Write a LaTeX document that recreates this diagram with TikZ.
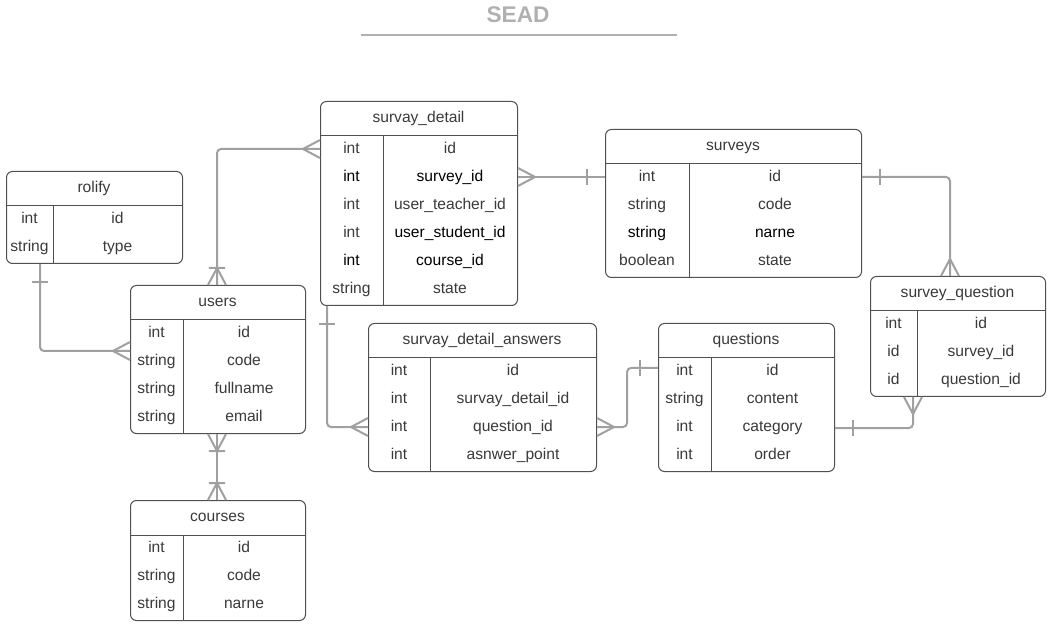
\documentclass[tikz,border=0pt]{standalone}
\usepackage{fontspec}
\setmainfont{Liberation Sans}
\usetikzlibrary{arrows.meta,calc}

\definecolor{tblgray}{HTML}{505050}
\definecolor{txtgray}{HTML}{3A3A3A}
\definecolor{linkgray}{HTML}{A0A0A0}
\definecolor{titlegray}{HTML}{B0B0B0}

\newcommand{\pxu}{0.75pt}

%% crow's foot and bar tips
\pgfdeclarearrow{
  name = Crow,
  parameters = {\the\pgfarrowlength,\the\pgfarrowwidth},
  setup code = {
    \pgfarrowssettipend{0pt}
    \pgfarrowssetlineend{0pt}
    \pgfarrowssetbackend{-\pgfarrowlength}
    \pgfarrowshullpoint{0pt}{.5\pgfarrowwidth}
    \pgfarrowshullpoint{0pt}{-.5\pgfarrowwidth}
    \pgfarrowshullpoint{-\pgfarrowlength}{0pt}
    \pgfarrowssavethe\pgfarrowlength
    \pgfarrowssavethe\pgfarrowwidth
  },
  drawing code = {
    \pgfpathmoveto{\pgfqpoint{0pt}{.5\pgfarrowwidth}}
    \pgfpathlineto{\pgfqpoint{-\pgfarrowlength}{0pt}}
    \pgfpathlineto{\pgfqpoint{0pt}{-.5\pgfarrowwidth}}
    \pgfusepathqstroke
  },
  defaults = {length=12.75pt, width=13.5pt}
}
\pgfdeclarearrow{
  name = Tick,
  parameters = {\the\pgfarrowlength,\the\pgfarrowwidth},
  setup code = {
    \pgfarrowssettipend{0pt}
    \pgfarrowssetlineend{0pt}
    \pgfarrowssetbackend{-\pgfarrowlength}
    \pgfarrowshullpoint{-\pgfarrowlength}{.5\pgfarrowwidth}
    \pgfarrowshullpoint{-\pgfarrowlength}{-.5\pgfarrowwidth}
    \pgfarrowssavethe\pgfarrowlength
    \pgfarrowssavethe\pgfarrowwidth
  },
  drawing code = {
    \pgfpathmoveto{\pgfqpoint{-\pgfarrowlength}{.5\pgfarrowwidth}}
    \pgfpathlineto{\pgfqpoint{-\pgfarrowlength}{-.5\pgfarrowwidth}}
    \pgfusepathqstroke
  },
  defaults = {length=13.5pt, width=12pt}
}
\pgfdeclarearrow{
  name = CrowTick,
  parameters = {\the\pgfarrowlength,\the\pgfarrowwidth},
  setup code = {
    \pgfarrowssettipend{0pt}
    \pgfarrowssetlineend{0pt}
    \pgfarrowssetbackend{-\pgfarrowlength}
    \pgfarrowshullpoint{0pt}{.5\pgfarrowwidth}
    \pgfarrowshullpoint{0pt}{-.5\pgfarrowwidth}
    \pgfarrowshullpoint{-\pgfarrowlength}{.5\pgfarrowwidth}
    \pgfarrowshullpoint{-\pgfarrowlength}{-.5\pgfarrowwidth}
    \pgfarrowssavethe\pgfarrowlength
    \pgfarrowssavethe\pgfarrowwidth
  },
  drawing code = {
    \pgfpathmoveto{\pgfqpoint{0pt}{.5\pgfarrowwidth}}
    \pgfpathlineto{\pgfqpoint{-\pgfarrowlength}{0pt}}
    \pgfpathlineto{\pgfqpoint{0pt}{-.5\pgfarrowwidth}}
    \pgfpathmoveto{\pgfqpoint{-\pgfarrowlength}{.45\pgfarrowwidth}}
    \pgfpathlineto{\pgfqpoint{-\pgfarrowlength}{-.45\pgfarrowwidth}}
    \pgfusepathqstroke
  },
  defaults = {length=12.75pt, width=13.5pt}
}

\tikzset{
  tbl/.style={draw=tblgray, line width=0.75pt, rounded corners=4.5pt, fill=white, anchor=north west, inner sep=0pt},
  tblline/.style={draw=tblgray, line width=0.75pt},
  cell/.style={text=txtgray, font=\fontsize{11.7}{14}\selectfont, inner sep=0pt, text height=8.6pt, text depth=2.5pt},
  link/.style={draw=linkgray, line width=1.5pt, rounded corners=3pt},
}

%% name, x, y, width, divider, rows, title, fields
\newcommand{\ertable}[8]{%
  \node[tbl, minimum width=#4*\pxu, minimum height=(36+28*#6)*\pxu] (#1) at (#2,#3) {};
  \draw[tblline] ($(#1.north west)+(0,35)$) -- ($(#1.north east)+(0,35)$);
  \draw[tblline] ($(#1.north west)+(#5,35)$) -- ($(#1.south west)+(#5,0)$);
  \node[cell] (#1-title) at ({#2+#4/2},{#3+17.5}) {#7};
  \foreach[count=\i] \ty/\fn in {#8} {
    \node[cell] (#1-t\i) at ({#2+#5/2},{#3+48.5+28*(\i-1)}) {\ty};
    \node[cell] (#1-f\i) at ({#2+#5+(#4-#5)/2},{#3+48.5+28*(\i-1)}) {\fn};
  }
}

\begin{document}
\begin{tikzpicture}[x=0.75pt,y=-0.75pt]
  \useasboundingbox (0,0) rectangle (1052,630);
  %% Title
  \node[font=\bfseries\fontsize{17}{20}\selectfont, text=titlegray] (title) at (518,15) {SEAD};
  \draw[titlegray, line width=1.2pt] (361,35) -- (677,35);
  %% Tables
  \ertable{rolify}{6}{171}{176}{47}{2}{rolify}{int/id, string/type}
  \ertable{users}{130}{285}{175}{53}{4}{users}{int/id, string/code, string/fullname, string/email}
  \ertable{courses}{130}{500}{175}{53}{3}{courses}{int/id, string/code, string/narne}
  \ertable{sdetail}{320}{101}{197}{63}{6}{survay\_detail}{int/id, {\color{black}int}/{\color{black}survey\_id}, int/user\_teacher\_id, int/{\color{black}user\_student\_id}, {\color{black}int}/{\color{black}course\_id}, string/state}
  \ertable{surveys}{605}{129}{256}{84}{4}{surveys}{int/id, string/code, {\color{black}string}/{\color{black}narne}, boolean/state}
  \ertable{sanswers}{368}{323}{228}{62}{4}{survay\_detail\_answers}{int/id, int/survay\_detail\_id, int/question\_id, int/asnwer\_point}
  \ertable{questions}{658}{323}{176}{53}{4}{questions}{int/id, string/content, int/category, int/order}
  \ertable{squestion}{870}{276}{175}{47}{3}{survey\_question}{int/id, id/survey\_id, id/question\_id}
  %% Relations
  \draw[link,{Tick}-{Crow}] ($(rolify.south west)+(34,0)$) |- ($(users.north west)+(0,66)$);
  \draw[link,{CrowTick}-{Crow}] ($(users.north west)+(87,0)$) |- ($(sdetail.north west)+(0,48)$);
  \draw[link,{Crow}-{Tick}] ($(sdetail.north east)+(0,76)$) -- ($(surveys.north west)+(0,48)$);
  \draw[link,{Tick}-{Crow}] ($(sdetail.south west)+(7,0)$) |- ($(sanswers.north west)+(0,104)$);
  \draw[link,{Crow}-{Tick}] ($(sanswers.north east)+(0,104)$) -- ++(30,0) |- ($(questions.north west)+(0,45)$);
  \draw[link,{Tick}-{Crow}] ($(surveys.north east)+(0,48)$) -| ($(squestion.north west)+(80,0)$);
  \draw[link,{Tick}-{Crow}] ($(questions.north east)+(0,105)$) -| ($(squestion.south west)+(43,0)$);
  \draw[link,{CrowTick}-{CrowTick}] ($(users.south west)+(87,0)$) -- ($(courses.north west)+(87,0)$);
\end{tikzpicture}
\end{document}
